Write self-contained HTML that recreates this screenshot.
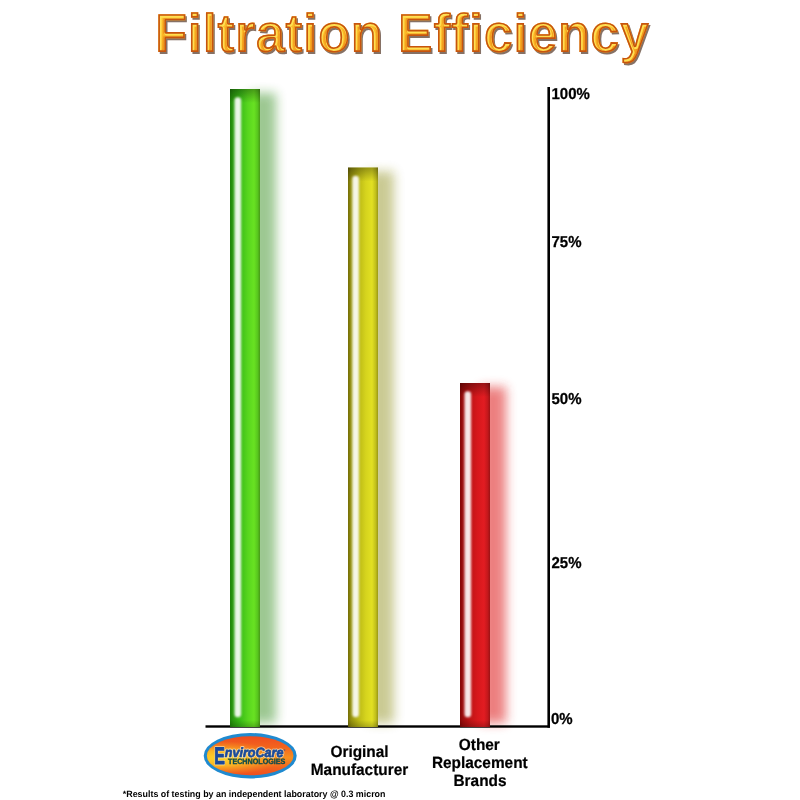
<!DOCTYPE html>
<html lang="en">
<head>
<meta charset="utf-8">
<title>Filtration Efficiency</title>
<style>
html,body{margin:0;padding:0;background:#fff;}
body{width:800px;height:800px;overflow:hidden;font-family:"Liberation Sans",sans-serif;}
svg{display:block;}
text{font-family:"Liberation Sans",sans-serif;font-weight:bold;}
</style>
</head>
<body>
<svg width="800" height="800" viewBox="0 0 800 800" text-rendering="geometricPrecision">
<defs>
  <!-- title -->
  <linearGradient id="tg" x1="0" y1="0" x2="0" y2="1">
    <stop offset="0.1" stop-color="#fdc432"/>
    <stop offset="0.5" stop-color="#fcb626"/>
    <stop offset="0.9" stop-color="#f5a01c"/>
  </linearGradient>
  <filter id="tsh" x="-5%" y="-20%" width="110%" height="140%">
    <feGaussianBlur stdDeviation="0.6"/>
  </filter>
  <!-- bar gradients -->
  <linearGradient id="gG" x1="0" y1="0" x2="1" y2="0">
    <stop offset="0" stop-color="#1f840a"/>
    <stop offset="0.1" stop-color="#2a9a0e"/>
    <stop offset="0.36" stop-color="#3cbe18"/>
    <stop offset="0.6" stop-color="#58d61e"/>
    <stop offset="0.8" stop-color="#68e222"/>
    <stop offset="0.92" stop-color="#58c61e"/>
    <stop offset="1" stop-color="#469a16"/>
  </linearGradient>
  <linearGradient id="gY" x1="0" y1="0" x2="1" y2="0">
    <stop offset="0" stop-color="#746c06"/>
    <stop offset="0.1" stop-color="#94900e"/>
    <stop offset="0.36" stop-color="#bcba16"/>
    <stop offset="0.6" stop-color="#d6d41e"/>
    <stop offset="0.8" stop-color="#e2e022"/>
    <stop offset="0.92" stop-color="#c2c01c"/>
    <stop offset="1" stop-color="#9a9814"/>
  </linearGradient>
  <linearGradient id="gR" x1="0" y1="0" x2="1" y2="0">
    <stop offset="0" stop-color="#840606"/>
    <stop offset="0.1" stop-color="#9c0c0c"/>
    <stop offset="0.36" stop-color="#c01416"/>
    <stop offset="0.6" stop-color="#d8181c"/>
    <stop offset="0.8" stop-color="#e21c22"/>
    <stop offset="0.92" stop-color="#c4181c"/>
    <stop offset="1" stop-color="#9c1214"/>
  </linearGradient>
  <linearGradient id="topDark" x1="0" y1="0" x2="0" y2="1">
    <stop offset="0" stop-color="#000" stop-opacity="0.32"/>
    <stop offset="1" stop-color="#000" stop-opacity="0"/>
  </linearGradient>
  <linearGradient id="botDark" x1="0" y1="0" x2="0" y2="1">
    <stop offset="0" stop-color="#000" stop-opacity="0"/>
    <stop offset="1" stop-color="#000" stop-opacity="0.22"/>
  </linearGradient>
  <linearGradient id="rimG" x1="0" y1="0" x2="1" y2="0">
    <stop offset="0" stop-color="#b4f294" stop-opacity="0.75"/>
    <stop offset="1" stop-color="#b4f294" stop-opacity="0"/>
  </linearGradient>
  <linearGradient id="rimY" x1="0" y1="0" x2="1" y2="0">
    <stop offset="0" stop-color="#f2ee9c" stop-opacity="0.75"/>
    <stop offset="1" stop-color="#f2ee9c" stop-opacity="0"/>
  </linearGradient>
  <linearGradient id="rimR" x1="0" y1="0" x2="1" y2="0">
    <stop offset="0" stop-color="#ffaaa6" stop-opacity="0.75"/>
    <stop offset="1" stop-color="#ffaaa6" stop-opacity="0"/>
  </linearGradient>
  <filter id="shb" x="-100%" y="-5%" width="300%" height="110%">
    <feGaussianBlur stdDeviation="5.2"/>
  </filter>
  <filter id="hlb" x="-200%" y="-5%" width="500%" height="110%">
    <feGaussianBlur stdDeviation="1.05"/>
  </filter>
  <clipPath id="aboveBase"><rect x="0" y="0" width="800" height="726"/></clipPath>
  <!-- logo -->
  <linearGradient id="lg" x1="0" y1="0" x2="0" y2="1">
    <stop offset="0" stop-color="#ef4c1e"/>
    <stop offset="0.28" stop-color="#f2641e"/>
    <stop offset="0.55" stop-color="#f6901f"/>
    <stop offset="0.8" stop-color="#f2641e"/>
    <stop offset="1" stop-color="#ef4e1e"/>
  </linearGradient>
  <radialGradient id="lg2" cx="0.16" cy="0.56" r="0.7" gradientTransform="translate(0,0.56) scale(1,0.62) translate(0,-0.56)">
    <stop offset="0" stop-color="#fcd62a" stop-opacity="1"/>
    <stop offset="0.45" stop-color="#fbc426" stop-opacity="0.8"/>
    <stop offset="1" stop-color="#f8a020" stop-opacity="0"/>
  </radialGradient>
</defs>

<rect width="800" height="800" fill="#fff"/>

<!-- Title -->
<clipPath id="tc"><text x="154.3" y="51.9" font-size="53.3">Filtration Efficiency</text></clipPath>
<g font-size="53.3" transform="translate(0.5,52.3) scale(1,1.03) translate(0,-51.9)">
  <text x="155.8" y="53.6" fill="#7a6254" opacity="0.9" filter="url(#tsh)">Filtration Efficiency</text>
  <text x="154.3" y="51.9" fill="url(#tg)">Filtration Efficiency</text>
  <g clip-path="url(#tc)">
    <text x="153.6" y="51.2" fill="none" stroke="#ec9019" stroke-opacity="0.7" stroke-width="4.8" stroke-linejoin="round">Filtration Efficiency</text>
    <text x="155.0" y="52.6" fill="none" stroke="#ffe052" stroke-opacity="1" stroke-width="4.9" stroke-linejoin="round">Filtration Efficiency</text>
    <text x="154.3" y="51.9" fill="none" stroke="#c7540e" stroke-width="3.2" stroke-linejoin="round">Filtration Efficiency</text>
  </g>
</g>

<!-- shadows -->
<g>
  <rect x="251" y="94.5" width="27.5" height="631.5" fill="#36921a" opacity="0.48" filter="url(#shb)"/>
  <rect x="369" y="173.5" width="28.5" height="552.5" fill="#8c8c14" opacity="0.5" filter="url(#shb)"/>
  <rect x="481" y="389" width="26.5" height="337" fill="#e02c2c" opacity="0.54" filter="url(#shb)"/>
  <rect x="260" y="96" width="3.5" height="626" fill="url(#rimG)"/>
  <rect x="378" y="175" width="3.5" height="547" fill="url(#rimY)"/>
  <rect x="490" y="390" width="3.5" height="332" fill="url(#rimR)"/>
</g>

<!-- axes -->
<rect x="205.5" y="725.3" width="344.5" height="2.4" fill="#000"/>
<rect x="547.4" y="87" width="2.6" height="640.7" fill="#000"/>

<!-- bars -->
<g>
  <rect x="230" y="89" width="30" height="638" fill="url(#gG)"/>
  <rect x="230" y="89" width="30" height="14" fill="url(#topDark)"/>
  <rect x="230" y="720" width="30" height="7.5" fill="url(#botDark)"/>
  <rect x="234.5" y="97.3" width="6.6" height="620" rx="3.3" fill="#fff" opacity="0.9" filter="url(#hlb)"/>

  <rect x="348" y="167.5" width="30" height="559.5" fill="url(#gY)"/>
  <rect x="348" y="167.5" width="30" height="14" fill="url(#topDark)"/>
  <rect x="348" y="720" width="30" height="7.5" fill="url(#botDark)"/>
  <rect x="352.3" y="175.8" width="6.6" height="541.5" rx="3.3" fill="#fff" opacity="0.9" filter="url(#hlb)"/>

  <rect x="460" y="383" width="30" height="344" fill="url(#gR)"/>
  <rect x="460" y="383" width="30" height="14" fill="url(#topDark)"/>
  <rect x="460" y="720" width="30" height="7.5" fill="url(#botDark)"/>
  <rect x="464.5" y="391.3" width="6.6" height="326" rx="3.3" fill="#fff" opacity="0.9" filter="url(#hlb)"/>
</g>

<!-- logo -->
  <linearGradient id="lg" x1="0" y1="0" x2="0" y2="1">
    <stop offset="0" stop-color="#f0541e"/>
    <stop offset="0.4" stop-color="#f36c1e"/>
    <stop offset="1" stop-color="#f9a822"/>
  </linearGradient>
  <radialGradient id="lg2" cx="0.1" cy="0.7" r="0.62">
    <stop offset="0" stop-color="#fbd42a" stop-opacity="1"/>
    <stop offset="0.5" stop-color="#fac026" stop-opacity="0.7"/>
    <stop offset="1" stop-color="#f8a822" stop-opacity="0"/>
  </radialGradient>
</defs>

<rect width="800" height="800" fill="#fff"/>

<!-- Title -->
<clipPath id="tc"><text x="154.3" y="51.9" font-size="53.3">Filtration Efficiency</text></clipPath>
<g font-size="53.3" transform="translate(0.5,52.3) scale(1,1.03) translate(0,-51.9)">
  <text x="155.8" y="53.6" fill="#7a6254" opacity="0.9" filter="url(#tsh)">Filtration Efficiency</text>
  <text x="154.3" y="51.9" fill="url(#tg)">Filtration Efficiency</text>
  <g clip-path="url(#tc)">
    <text x="153.6" y="51.2" fill="none" stroke="#ec9019" stroke-opacity="0.7" stroke-width="4.8" stroke-linejoin="round">Filtration Efficiency</text>
    <text x="155.0" y="52.6" fill="none" stroke="#ffe052" stroke-opacity="1" stroke-width="4.9" stroke-linejoin="round">Filtration Efficiency</text>
    <text x="154.3" y="51.9" fill="none" stroke="#c7540e" stroke-width="3.2" stroke-linejoin="round">Filtration Efficiency</text>
  </g>
</g>

<!-- shadows -->
<g>
  <rect x="250" y="93" width="26" height="630" fill="#328c1e" opacity="0.48" filter="url(#shb)"/>
  <rect x="368" y="171.5" width="26" height="551.5" fill="#8c8c14" opacity="0.46" filter="url(#shb)"/>
  <rect x="480" y="387" width="26" height="336" fill="#e02c2c" opacity="0.6" filter="url(#shb)"/>
</g>

<!-- axes -->
<rect x="205.5" y="725.3" width="344.5" height="2.4" fill="#000"/>
<rect x="547.4" y="87" width="2.6" height="640.7" fill="#000"/>

<!-- bars -->
<g>
  <rect x="230" y="89" width="30" height="638" fill="url(#gG)"/>
  <rect x="230" y="89" width="30" height="14" fill="url(#topDark)"/>
  <rect x="230" y="720" width="30" height="7.5" fill="url(#botDark)"/>
  <rect x="234.5" y="97.3" width="6.6" height="620" rx="3.3" fill="#fff" opacity="0.9" filter="url(#hlb)"/>

  <rect x="348" y="167.5" width="30" height="559.5" fill="url(#gY)"/>
  <rect x="348" y="167.5" width="30" height="14" fill="url(#topDark)"/>
  <rect x="348" y="720" width="30" height="7.5" fill="url(#botDark)"/>
  <rect x="352.3" y="175.8" width="6.6" height="541.5" rx="3.3" fill="#fff" opacity="0.9" filter="url(#hlb)"/>

  <rect x="460" y="383" width="30" height="344" fill="url(#gR)"/>
  <rect x="460" y="383" width="30" height="14" fill="url(#topDark)"/>
  <rect x="460" y="720" width="30" height="7.5" fill="url(#botDark)"/>
  <rect x="464.5" y="391.3" width="6.6" height="326" rx="3.3" fill="#fff" opacity="0.9" filter="url(#hlb)"/>
</g>

<!-- axis labels -->
<g font-size="15" fill="#000" stroke="#000" stroke-width="0.25">
  <text transform="translate(551.5,98.6) scale(1,1.055)">100%</text>
  <text transform="translate(551.5,246.6) scale(1,1.055)">75%</text>
  <text transform="translate(551.5,404) scale(1,1.055)">50%</text>
  <text transform="translate(551.5,568) scale(1,1.055)">25%</text>
  <text transform="translate(551,723.8) scale(1,1.055)">0%</text>
</g>

<!-- category labels -->
<g font-size="15.4" fill="#000" text-anchor="middle" stroke="#000" stroke-width="0.2">
  <text transform="translate(359.5,756.7) scale(1,1.055)">Original</text>
  <text transform="translate(359.5,775.2) scale(1,1.055)">Manufacturer</text>
  <text transform="translate(479.3,749.5) scale(1,1.055)">Other</text>
  <text transform="translate(479.8,767.6) scale(1,1.055)">Replacement</text>
  <text transform="translate(480,785.8) scale(1,1.055)">Brands</text>
</g>

<!-- logo -->
<g>
  <ellipse cx="250.2" cy="755.7" rx="46.5" ry="22.7" fill="#1f8ad0"/>
  <ellipse cx="250.2" cy="755.8" rx="43.3" ry="19.5" fill="url(#lg)"/>
  <ellipse cx="250.2" cy="755.8" rx="43.3" ry="19.5" fill="url(#lg2)"/>
  <g fill="#fff0c8" stroke="#fff0c8" stroke-opacity="0.7" fill-opacity="0.7" stroke-width="2.4" stroke-linejoin="round">
    <text transform="translate(214.3,764.0) scale(0.66,1)" font-size="24">E</text>
    <text x="224.8" y="756.6" font-size="13.4" font-style="italic" textLength="58.6" lengthAdjust="spacingAndGlyphs">nviroCare</text>
  </g>
  <g fill="#1b4a9a" stroke="#1b4a9a" stroke-width="0.7" stroke-linejoin="round">
    <text transform="translate(214.3,764.0) scale(0.66,1)" font-size="24" stroke-width="1.2">E</text>
    <text x="224.8" y="756.6" font-size="13.4" font-style="italic" textLength="58.6" lengthAdjust="spacingAndGlyphs">nviroCare</text>
  </g>
  <text x="283.6" y="750.6" font-size="2.6" fill="#1d4c9c">®</text>
  <text x="228" y="764.4" font-size="7.8" fill="#0f4a4c" stroke="#0f4a4c" stroke-width="0.35" textLength="57.4" lengthAdjust="spacingAndGlyphs">TECHNOLOGIES</text>
</g>

<!-- footnote -->
<text transform="translate(122.8,796.8) scale(1,1.04)" font-size="8.9" fill="#000">*Results of testing by an independent laboratory @ 0.3 micron</text>
</svg>
</body>
</html>
